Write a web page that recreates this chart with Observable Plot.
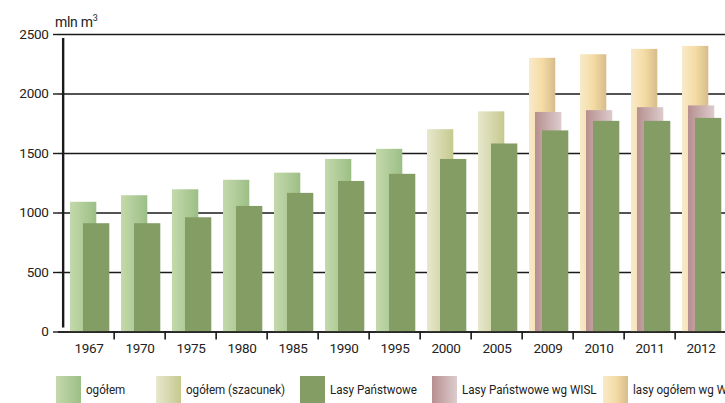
<!DOCTYPE html>
<html><head><meta charset="utf-8">
<script src="https://cdn.jsdelivr.net/npm/d3@7"></script>
<script src="https://cdn.jsdelivr.net/npm/@observablehq/plot@0.6"></script>
<style>
body{margin:0;background:#fff;}
#wrap{position:relative;width:725px;height:403px;overflow:hidden;font-family:"Liberation Sans Narrow",Roboto,sans-serif;color:#222;}
#chart{position:absolute;left:0;top:0;width:770px;}
#chart svg{max-width:none !important;width:770px !important;height:360px !important;}
.unit{position:absolute;left:55px;top:13px;font-size:14px;letter-spacing:-0.3px;}
.unit sup{font-size:9px;}
.lg{position:absolute;top:376px;height:27px;font-size:13.5px;}
.lg .sw{position:absolute;left:0;top:0;width:25px;height:27px;}
.lg .tx{position:absolute;left:30px;top:5px;white-space:nowrap;transform:scaleX(0.86);transform-origin:0 50%;}
</style></head>
<body><div id="wrap"><div id="chart"></div><div class="unit">mln m<sup>3</sup></div></div>
<script>
const years = ["1967","1970","1975","1980","1985","1990","1995","2000","2005","2009","2010","2011","2012"];
const ogolem = [1090,1145,1195,1275,1335,1450,1535,null,null,null,null,null,null];
const ogolemSzacunek = [null,null,null,null,null,null,null,1700,1850,null,null,null,null];
const lasyPanstwowe = [910,910,960,1055,1165,1265,1325,1450,1580,1690,1770,1770,1795];
const lasyPanstwoweWISL = [null,null,null,null,null,null,null,null,null,1845,1860,1885,1900];
const lasyOgolemWISL = [null,null,null,null,null,null,null,null,null,2300,2330,2375,2400];
const yTicks = [0,500,1000,1500,2000,2500];
const legendLabels = ["ogółem","ogółem (szacunek)","Lasy Państwowe","Lasy Państwowe wg WISL","lasy ogółem wg WISL"];

const rows = (arr) => years.map((y,i)=>({year:y,value:arr[i]})).filter(d=>d.value!=null);

const gradients = [
  {id:"gOg", stops:[[0,"#c4d9ab"],[1,"#9cbf86"]]},
  {id:"gSz", stops:[[0,"#e7e8cd"],[1,"#c6c98e"]]},
  {id:"gPk", stops:[[0,"#b78f90"],[1,"#ddcccd"]]},
  {id:"gYe", stops:[[0,"#f8eac9"],[0.5,"#f5dca5"],[1,"#d7bc8b"]]}
];

const defsMark = () => {
  const defs = d3.create("svg:defs");
  for (const g of gradients) {
    const lg = defs.append("linearGradient").attr("id", g.id).attr("x1",0).attr("x2",1).attr("y1",0).attr("y2",0);
    for (const [o,c] of g.stops) lg.append("stop").attr("offset", o).attr("stop-color", c);
  }
  return defs.node();
};

const bw = 51.7;
const chart = Plot.plot({
  width: 770, height: 360,
  marginLeft: 58, marginRight: 40, marginTop: 34, marginBottom: 28.5,
  style: {fontFamily: '"Liberation Sans Narrow",Roboto,sans-serif', fontSize: "13px", color: "#222", background: "transparent", letterSpacing: "-0.3px"},
  x: {type: "band", domain: years, padding: 0, axis: null, label: null},
  y: {type: "linear", domain: [0,2500], axis: null, label: null},
  marks: [
    defsMark,
    Plot.ruleY(yTicks, {stroke: "#1a1a1a", strokeWidth: 1.6}),
    Plot.barY(rows(ogolem), {x:"year", y:"value", fill:"url(#gOg)", insetLeft:7, insetRight:bw-34}),
    Plot.barY(rows(ogolemSzacunek), {x:"year", y:"value", fill:"url(#gSz)", insetLeft:7, insetRight:bw-34}),
    Plot.barY(rows(lasyOgolemWISL), {x:"year", y:"value", fill:"url(#gYe)", insetLeft:7, insetRight:bw-34}),
    Plot.barY(rows(lasyPanstwoweWISL), {x:"year", y:"value", fill:"url(#gPk)", insetLeft:13, insetRight:bw-40}),
    Plot.barY(rows(lasyPanstwowe), {x:"year", y:"value", fill:"#839d64", insetLeft:20, insetRight:bw-47}),
    Plot.ruleY([0], {stroke: "#1a1a1a", strokeWidth: 1.6}),
    Plot.ruleX(years.slice(1), {x: d=>d, dx: -bw/2, y1: 0, y2: 0, insetBottom: -8, stroke:"#1a1a1a", strokeWidth:1.6}),
    Plot.axisX({ticks: years, tickSize: 0, tickPadding: 11, fontSize: 13.5, label: null}),
    Plot.axisY({ticks: yTicks, tickSize: 5, tickPadding: 5, tickFormat: d=>String(d), stroke:"#1a1a1a", strokeWidth:1.4, fontSize: 13.5, label: null}),
    Plot.ruleX([years[0]], {x: d=>d, dx: -bw/2, y1: 0, y2: 2500, insetTop: -4, insetBottom: -4, stroke:"#1a1a1a", strokeWidth: 2.4})
  ]
});
document.getElementById("chart").appendChild(chart);

const legendX = [56,156,300,432,603];
const legendFills = [
  "linear-gradient(to right,#c4d9ab,#9cbf86)",
  "linear-gradient(to right,#e7e8cd,#c6c98e)",
  "#839d64",
  "linear-gradient(to right,#b78f90,#ddcccd)",
  "linear-gradient(to right,#f8eac9,#f5dca5 50%,#d7bc8b)"
];
const wrap = document.getElementById("wrap");
legendLabels.forEach((t,i)=>{
  const d = document.createElement("div");
  d.className = "lg"; d.style.left = legendX[i] + "px";
  d.innerHTML = `<div class="sw" style="background:${legendFills[i]}"></div><div class="tx"></div>`;
  d.querySelector(".tx").textContent = t;
  wrap.appendChild(d);
});
</script></body></html>
